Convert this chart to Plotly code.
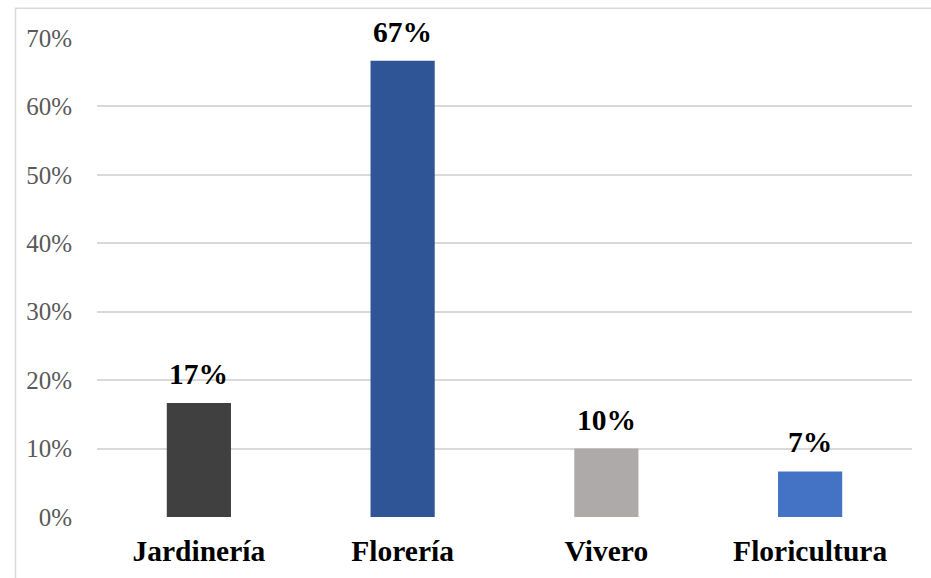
import plotly.graph_objects as go

# Share of businesses by activity
categories = ["Jardinería", "Florería", "Vivero", "Floricultura"]
shares = [1 / 6, 2 / 3, 1 / 10, 1 / 15]
bar_colors = ["#404040", "#2F5597", "#AEAAAA", "#4472C4"]
y_ticks = [0, 0.1, 0.2, 0.3, 0.4, 0.5, 0.6, 0.7]

SERIF = "Liberation Serif, Times New Roman, serif"

fig = go.Figure(
    go.Bar(
        x=categories,
        y=shares,
        marker=dict(color=bar_colors, line=dict(width=0)),
        width=0.315,
        hoverinfo="skip",
    )
)

# value labels above each bar
for cat, val in zip(categories, shares):
    fig.add_annotation(
        x=cat,
        y=val,
        text=f"<b>{val:.0%}</b>",
        showarrow=False,
        yanchor="bottom",
        yshift=11,
        font=dict(family=SERIF, size=29.5, color="#000000"),
    )

# chart frame
fig.add_shape(
    type="rect",
    xref="paper",
    yref="paper",
    x0=-0.1,
    x1=1.2,
    y0=-0.3,
    y1=1.062,
    line=dict(color="#D9D9D9", width=1.5),
    fillcolor="rgba(0,0,0,0)",
    layer="below",
)

fig.update_layout(
    width=931,
    height=578,
    margin=dict(l=97, r=19, t=38, b=61),
    paper_bgcolor="#FFFFFF",
    plot_bgcolor="#FFFFFF",
    showlegend=False,
    bargap=0.69,
    xaxis=dict(
        showgrid=False,
        showline=False,
        zeroline=False,
        tickfont=dict(family=SERIF, size=29.5, color="#000000", weight="bold"),
        ticks="",
        ticklabelstandoff=13,
    ),
    yaxis=dict(
        range=[0, 0.7],
        tickvals=y_ticks,
        tickformat=".0%",
        showgrid=True,
        gridcolor="#D9D9D9",
        gridwidth=1.5,
        zeroline=False,
        showline=False,
        ticks="",
        ticklabelstandoff=24,
        tickfont=dict(family=SERIF, size=25, color="#595959"),
    ),
)

fig.write_html("out.html")
